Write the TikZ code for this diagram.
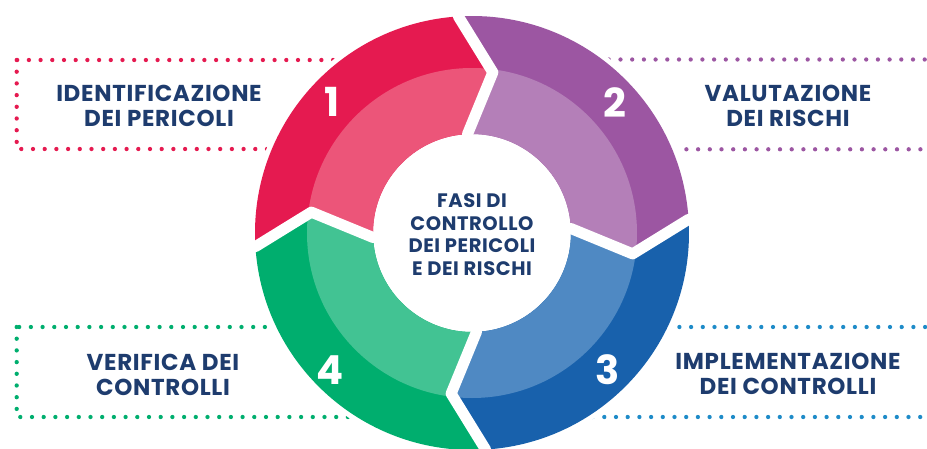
\documentclass[tikz,border=0pt]{standalone}
\usepackage{fontspec}
\setmainfont{Poppins}
\newfontfamily\widefont{Poppins}[LetterSpace=3]
\definecolor{reddark}{HTML}{E51A50}
\definecolor{redlight}{HTML}{EC5579}
\definecolor{purdark}{HTML}{9C56A2}
\definecolor{purlight}{HTML}{B47FB8}
\definecolor{bludark}{HTML}{1861AC}
\definecolor{blulight}{HTML}{4F89C3}
\definecolor{grndark}{HTML}{00AE6E}
\definecolor{grnlight}{HTML}{42C393}
\definecolor{bludot}{HTML}{1E8BC8}
\definecolor{navy}{HTML}{1E3C6E}
\begin{document}
\begin{tikzpicture}[x=1pt,y=1pt,
	dot_line/.style={line width=4.3pt,line cap=round,dash pattern=on 0pt off 11.7pt},
	gap_line/.style={white,line width=11pt,line join=round,line cap=round},
	side_text/.style={align=center,text=navy,font=\widefont\bfseries\fontsize{23}{25.7}\selectfont},
	center_text/.style={align=center,text=navy,font=\widefont\bfseries\fontsize{19.5}{22.5}\selectfont},
	num_text/.style={text=white,font=\bfseries\fontsize{40}{40}\selectfont}]
		
		\useasboundingbox (-472,-215) rectangle (455,233);
		\clip (-472,-215) rectangle (455,233);
		
		% dotted boxes
		\draw[dot_line,reddark] (-455.3,173) rectangle (0,84);
		\draw[dot_line,purdark] (0,173.5) rectangle (470,83.7);
		\draw[dot_line,grndark] (-455.3,-94) rectangle (0,-184);
		\draw[dot_line,bludot] (0,-94) rectangle (470,-184);
		
		\fill[white] (0,0) circle (222);
		
		% ring segments
		\foreach \a/\dk/\lt in {183.6/reddark/redlight,93.6/purdark/purlight,3.6/bludark/blulight,-86.4/grndark/grnlight}{
			\begin{scope}
				\clip (\a:217) arc[start angle=\a,end angle=\a-90,radius=217] -- (\a-101:162) -- (\a-91:99)
				arc[start angle=\a-91,end angle=\a-1,radius=99] -- (\a-11:162) -- cycle;
				\fill[\dk] (0,0) circle (230);
				\fill[\lt] (0,0) circle (165);
			\end{scope}
		}
		\foreach \a in {93.6,3.6,-86.4,183.6}
			\draw[gap_line] (\a:240) -- (\a:217) -- (\a-11:162) -- (\a-1:99) -- (\a-1:80);
		
		\node[num_text] (n1) at (-140,131) {1};
		\node[num_text] (n2) at (143,130) {2};
		\node[num_text] (n3) at (136,-137) {3};
		\node[num_text] (n4) at (-142,-137) {4};
		
		\node[center_text] (fasi) at (0,-1.5) {FASI DI\\CONTROLLO\\DEI PERICOLI\\E DEI RISCHI};
		
		\node[side_text] (ident) at (-313,127) {IDENTIFICAZIONE\\DEI PERICOLI};
		\node[side_text] (valut) at (316,127) {VALUTAZIONE\\DEI RISCHI};
		\node[side_text] (impl) at (316,-141) {IMPLEMENTAZIONE\\DEI CONTROLLI};
		\node[side_text] (verif) at (-309,-142) {VERIFICA DEI\\CONTROLLI};
\end{tikzpicture}
\end{document}
